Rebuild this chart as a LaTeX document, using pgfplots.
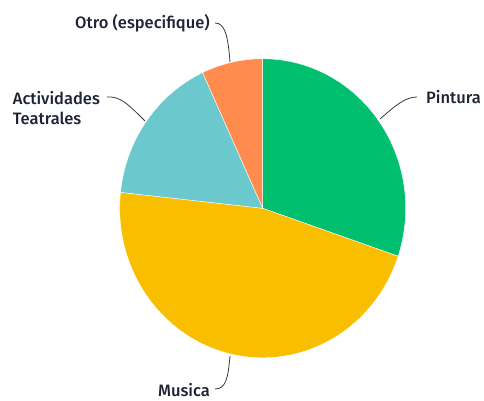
\documentclass[border=0pt]{standalone}
\usepackage{pgfplots}
\pgfplotsset{compat=1.18}
\usepackage{pgfplotstable}
\usepackage{fontspec}
\setmainfont{Fira Sans}[UprightFont={* Medium}]
\definecolor{cPin}{HTML}{00BF6F}
\definecolor{cMus}{HTML}{F9BE00}
\definecolor{cTea}{HTML}{6BC8CD}
\definecolor{cOtr}{HTML}{FF8B4F}
\definecolor{txt}{HTML}{1E2235}
\definecolor{lead}{HTML}{3A3A3A}

% share of answers, percent, clockwise from the top
\pgfplotstableread{
name      value
Pintura   30.2
Musica    46.5
Teatrales 16.4
Otro      6.9
}\piedata

\begin{document}
\begin{tikzpicture}
\pgfplotstablegetelem{0}{value}\of\piedata \let\vA\pgfplotsretval
\pgfplotstablegetelem{1}{value}\of\piedata \let\vB\pgfplotsretval
\pgfplotstablegetelem{2}{value}\of\piedata \let\vC\pgfplotsretval
\pgfplotstablegetelem{3}{value}\of\piedata \let\vD\pgfplotsretval
\pgfmathsetmacro\aA{90}
\pgfmathsetmacro\aB{\aA-3.6*\vA}
\pgfmathsetmacro\aC{\aB-3.6*\vB}
\pgfmathsetmacro\aD{\aC-3.6*\vC}
\pgfmathsetmacro\aE{\aD-3.6*\vD}
\begin{axis}[at={(0,0)},anchor=south west,scale only axis,width=484pt,height=401pt,
  hide axis,clip=false,xmin=-1.837,xmax=1.5476,ymin=-1.289,ymax=1.393]
\addplot[fill=cPin,draw=white,line width=0.4pt,domain=\aB:\aA,samples=80,variable=\t]
  ({cos(\t)},{sin(\t)}) -- (0,0) -- cycle;
\addplot[fill=cMus,draw=white,line width=0.4pt,domain=\aC:\aB,samples=120,variable=\t]
  ({cos(\t)},{sin(\t)}) -- (0,0) -- cycle;
\addplot[fill=cTea,draw=white,line width=0.4pt,domain=\aD:\aC,samples=60,variable=\t]
  ({cos(\t)},{sin(\t)}) -- (0,0) -- cycle;
\addplot[fill=cOtr,draw=white,line width=0.4pt,domain=\aE:\aD,samples=30,variable=\t]
  ({cos(\t)},{sin(\t)}) -- (0,0) -- cycle;
\end{axis}
\begin{scope}[shift={(0,401pt)},x=1pt,y=-1pt,font=\fontsize{16.5}{20}\selectfont,text=txt]
\draw[lead,line width=0.8pt] (380,119) .. controls (395,106) and (405,97) .. (417,97);
\node[anchor=base west,inner sep=0pt] at (426,103.3) {Pintura};
\draw[lead,line width=0.8pt] (215,23) .. controls (225,23) and (228,36) .. (230,62);
\node[anchor=base east,inner sep=0pt] at (210,28.3) {Otro (especifique)};
\draw[lead,line width=0.8pt] (107,97) .. controls (120,96) and (128,104) .. (145,121);
\node[anchor=base west,inner sep=0pt] at (12.7,105) {Actividades};
\node[anchor=base west,inner sep=0pt] at (12.7,125) {Teatrales};
\draw[lead,line width=0.8pt] (215,389) .. controls (226,389) and (228,378) .. (230,356);
\node[anchor=base east,inner sep=0pt] at (210,396.5) {Musica};
\end{scope}
\pgfresetboundingbox
\path (0,0) rectangle (484pt,401pt);
\end{tikzpicture}
\end{document}
